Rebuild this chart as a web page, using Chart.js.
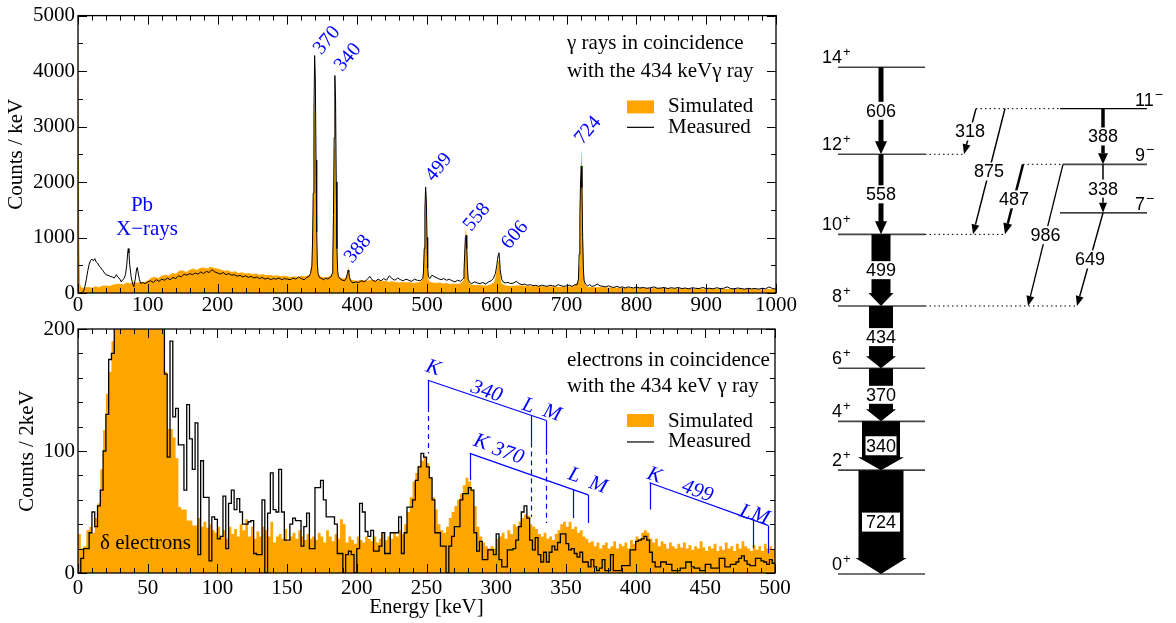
<!DOCTYPE html>
<html><head><meta charset="utf-8">
<script src="https://cdn.jsdelivr.net/npm/chart.js@4.4.0/dist/chart.umd.min.js"></script>
<style>
html,body{margin:0;padding:0;background:#fff;width:1176px;height:623px;overflow:hidden;}
canvas{position:absolute;}
#c1{left:0;top:0;} #c2{left:0;top:310px;} #c3{left:800px;top:0;}
</style></head><body>
<canvas id="c1" width="800" height="320"></canvas>
<canvas id="c2" width="800" height="313"></canvas>
<canvas id="c3" width="376" height="623"></canvas>
<script>
// ================= DATA =================
// gamma spectrum, [energy keV, counts/keV]
const gammaMeasured = [[0,0],[4,0],[8,30],[10,120],[12,250],[14,400],[16,520],[18,590],[20,610],[22,580],[24,620],[26,560],[28,540],[30,490],[32,470],[34,430],[36,400],[38,360],[40,330],[43,320],[46,300],[49,290],[52,270],[55,330],[57,290],[60,250],[62,200],[64,240],[66,260],[68,330],[70,520],[71,700],[72,800],[73,720],[74,520],[76,300],[78,180],[80,110],[82,250],[84,440],[85,460],[86,380],[88,240],[90,170],[93,190],[96,170],[100,200],[104,220],[108,190],[112,240],[116,210],[120,250],[124,230],[128,270],[132,240],[136,280],[140,260],[144,310],[148,290],[152,340],[156,320],[160,350],[164,330],[168,360],[172,340],[176,380],[180,350],[184,390],[188,370],[192,420],[196,380],[200,360],[204,340],[208,370],[212,330],[216,350],[220,320],[224,330],[228,300],[232,320],[236,290],[240,310],[244,280],[248,300],[252,270],[256,290],[260,260],[264,280],[268,250],[272,270],[276,240],[280,260],[284,250],[288,270],[292,240],[296,260],[300,250],[304,240],[308,270],[312,250],[316,290],[320,260],[324,240],[328,280],[331,300],[333,350],[335,480],[336,900],[337,1800],[338,3200],[339,4280],[340,3900],[341,2400],[342,1100],[343,500],[344,350],[346,280],[349,260],[352,240],[355,270],[358,250],[361,280],[363,300],[364,350],[365,600],[366,1400],[367,2800],[368,3920],[369,3500],[370,2000],[371,800],[372,400],[373,300],[376,250],[379,230],[382,220],[384,260],[386,350],[387,410],[388,380],[389,280],[391,210],[394,180],[398,200],[402,190],[406,220],[410,200],[414,240],[418,300],[422,230],[426,210],[430,250],[434,220],[438,260],[442,230],[446,310],[450,260],[454,230],[458,270],[462,240],[466,220],[470,250],[474,230],[478,210],[482,250],[486,230],[490,220],[494,260],[495,400],[496,800],[497,1500],[498,1910],[499,1700],[500,1000],[501,450],[502,300],[504,260],[507,320],[510,300],[513,280],[516,260],[520,240],[524,260],[528,230],[532,250],[536,220],[540,200],[544,230],[548,210],[552,260],[553,400],[554,700],[555,1000],[556,1040],[557,800],[558,450],[559,250],[561,190],[564,170],[568,200],[572,180],[576,170],[580,190],[584,160],[588,200],[592,220],[595,260],[598,350],[600,500],[601,600],[602,680],[603,725],[604,600],[605,400],[607,250],[609,200],[612,180],[616,190],[620,170],[624,180],[628,210],[632,170],[636,150],[640,160],[644,140],[648,150],[652,130],[656,140],[660,120],[664,140],[668,130],[672,120],[676,140],[680,130],[684,120],[688,150],[692,130],[696,120],[700,130],[704,140],[708,120],[712,150],[715,150],[717,250],[718,700],[719,1400],[720,2000],[721,2290],[722,1900],[723,1000],[724,450],[725,230],[727,160],[730,130],[733,150],[736,120],[740,130],[744,160],[748,130],[752,120],[756,110],[760,130],[764,110],[768,100],[772,120],[776,100],[780,110],[784,90],[788,110],[792,100],[796,90],[800,110],[805,90],[810,100],[815,85],[820,95],[825,110],[830,85],[835,90],[840,100],[845,80],[850,95],[855,85],[860,100],[865,80],[870,90],[875,75],[880,95],[885,85],[890,80],[895,100],[900,80],[905,85],[910,75],[915,95],[920,80],[925,85],[930,110],[935,80],[940,75],[945,90],[950,80],[955,70],[960,85],[965,75],[970,80],[975,70],[980,85],[985,75],[990,110],[995,80],[1000,70]];
const gammaSimulated = [[0,5200],[1,5200],[2,800],[3,160],[5,95],[10,100],[15,110],[20,95],[25,120],[30,105],[35,130],[40,135],[45,125],[50,150],[55,160],[60,165],[65,155],[70,190],[75,175],[80,200],[85,185],[90,205],[95,195],[100,225],[105,275],[110,295],[115,265],[120,310],[125,330],[130,315],[135,360],[140,345],[145,400],[150,410],[155,380],[160,420],[165,440],[170,415],[175,450],[180,460],[185,440],[190,475],[195,450],[200,440],[205,420],[210,400],[215,410],[220,380],[225,390],[230,360],[235,375],[240,350],[245,360],[250,340],[255,350],[260,330],[265,340],[270,320],[275,330],[280,310],[285,320],[290,300],[295,310],[300,300],[305,290],[310,300],[315,290],[320,310],[325,300],[330,320],[333,340],[335,500],[336,900],[337,1700],[338,2800],[339,3530],[340,3200],[341,2000],[342,900],[343,450],[344,330],[347,300],[350,290],[355,280],[360,300],[364,340],[365,600],[366,1300],[367,2600],[368,3690],[369,3300],[370,1800],[371,700],[372,380],[373,300],[377,270],[381,260],[384,280],[386,380],[387,470],[388,420],[389,290],[391,240],[395,230],[400,220],[405,240],[410,230],[415,220],[420,240],[425,220],[430,230],[435,210],[440,220],[445,200],[450,210],[455,200],[460,190],[465,200],[470,190],[475,200],[480,180],[485,190],[490,200],[494,250],[495,450],[496,850],[497,1500],[498,1900],[499,1650],[500,900],[501,400],[502,250],[504,200],[508,190],[513,180],[518,190],[523,170],[528,180],[533,160],[538,170],[543,160],[548,170],[552,230],[553,450],[554,800],[555,1100],[556,1175],[557,900],[558,450],[559,220],[561,160],[565,150],[570,140],[575,150],[580,140],[585,130],[590,150],[596,190],[598,280],[600,420],[602,580],[603,625],[604,560],[605,350],[606,200],[608,160],[612,140],[616,130],[620,125],[625,130],[630,140],[640,130],[650,120],[660,125],[670,115],[680,120],[690,110],[700,115],[710,120],[716,200],[718,500],[719,1200],[720,2000],[721,2600],[722,2400],[723,1500],[724,700],[725,300],[726,160],[730,110],[740,105],[750,110],[760,100],[770,95],[780,100],[790,90],[800,95],[810,90],[820,85],[830,90],[840,88],[850,82],[860,80],[870,84],[880,78],[890,80],[900,75],[910,78],[920,80],[930,72],[940,70],[950,74],[960,72],[970,68],[980,65],[990,70],[1000,68]];

// electron spectrum, 2 keV bins from 0 to 500 keV (counts / 2 keV)
const electronBinWidth = 2;
const electronMeasured = [0,12,20,20,33,50,38,55,68,100,130,175,180,
215,240,270,300,320,335,345,350,345,335,320,300,280,260,245,230,215,205,
163,95,190,128,135,105,105,68,138,110,85,123,15,92,62,62,10,46,44,28,30,63,20,57,
68,52,61,50,40,40,42,43,16,15,15,60,0,49,82,52,50,85,50,27,27,40,45,43,43,22,38,49,20,20,
70,70,76,60,46,46,46,40,16,16,0,15,18,15,0,20,57,50,34,30,35,18,18,22,33,16,16,33,33,33,
46,16,33,54,54,60,76,87,98,95,87,78,60,33,33,22,22,0,22,30,38,38,60,65,65,70,68,33,18,
26,11,11,19,19,15,32,11,5,5,19,19,20,27,38,50,55,45,27,19,29,15,9,17,9,17,22,19,25,32,
32,24,19,20,16,13,17,9,9,5,11,5,2,4,11,2,2,15,2,2,2,6,6,6,19,19,26,27,28,30,
27,17,9,5,5,9,9,7,7,2,2,2,4,4,9,9,5,4,4,2,2,7,7,4,4,4,12,12,5,5,
7,7,9,12,14,10,7,6,6,12,12,10,9,7,11,8];
const electronSimulated = [32,20,22,35,38,33,45,57,85,117,147,165,190,
230,270,320,360,390,410,420,420,410,395,375,350,320,290,260,240,220,205,
165,118,118,111,94,54,52,52,43,43,39,39,45,38,42,37,40,35,33,38,30,35,28,38,32,36,30,40,35,44,
30,38,28,34,30,38,35,30,42,25,30,32,28,36,26,30,33,28,35,30,27,32,28,30,27,33,30,25,35,30,
26,32,28,44,40,25,30,27,24,30,27,25,30,28,26,30,25,28,32,27,30,28,33,30,35,32,40,
50,62,75,82,88,92,95,90,78,62,52,40,35,33,38,45,50,55,60,65,72,78,75,68,55,38,
30,25,22,20,22,20,28,30,33,28,35,32,40,38,42,45,48,47,40,38,36,32,30,33,28,30,27,32,35,40,
42,38,42,36,38,33,35,30,28,25,26,22,25,20,23,25,20,22,26,20,24,22,25,20,27,24,30,28,33,35,
33,28,25,28,22,26,24,20,25,22,20,24,21,25,20,23,19,22,20,26,21,18,22,20,24,18,22,19,25,20,
22,18,24,20,26,22,20,18,23,19,22,18,24,20,22,19];

const gammaPeakLabels = ['370','340','388','499','558','606','724'];
const conversionGammas = [340, 370, 499];
const shellNames = ['K', 'L', 'M'];
const shellBinding = [89, 15, 4];

// level scheme
const levelEnergy = [0, 724, 1064, 1434, 1868, 2367, 2925, 3531, 2517, 2855, 3243];
const levelSpin   = ['0','2','4','6','8','10','12','14','7','9','11'];
const levelParity = ['+','+','+','+','+','+','+','+','\u2212','\u2212','\u2212'];
const transEnergy = [724, 340, 370, 434, 499, 558, 606, 318, 875, 487, 986, 649, 388, 338];
const transFrom   = [1, 2, 3, 4, 5, 6, 7, 10, 10, 9, 9, 8, 10, 9];
const transTo     = [0, 1, 2, 3, 4, 5, 6, 6, 5, 5, 4, 4, 9, 8];

// ================= LAYOUT / STYLE =================
const ORANGE = 'rgb(255,165,0)', BLUE = '#0000ff';
const SERIF = '"Liberation Serif","Times New Roman",serif';
const SANS = '"Liberation Sans",Arial,sans-serif';
const gammaLabelPos = [[356.7,4550],[386.8,4245],[401,791],[517,2266],[571.6,1367],[626,1043],[730.7,2932]];
const convLayout = [
  {kTop:158, mTop:125, solidEnd:[136,107,101], dashEnd:[98,46,41], gPos:[293,148.6], shellPos:[[254.7,168],[323,137],[340,131]]},
  {kTop:98, mTop:64, solidEnd:[76,45,41], dashEnd:null, gPos:[308.5,98], shellPos:[[289,107],[356,80],[373,72]]},
  {kTop:74, mTop:39, solidEnd:[52,20.5,16], dashEnd:null, gPos:[444.4,67], shellPos:[[413.5,80],[479,49.5],[489.5,46.5]]}
];
const levelLayout = [[38,125,'g'],[38,125,'g'],[38,125,'g'],[38,125,'g'],[38,125,'g'],[38,125,'g'],[38,125,'g'],[38,125,'g'],[260,347,'s'],[263,347,'g'],[260,347,'s']];
const levelExt = [[6,125,164],[5,125,205],[4,125,277],[10,176,260],[9,223,263]];
const transLayout = [[81,81,45,51,16,'box'],[81,81,38,46,13,'box'],[81,81,24,30,12,'gap'],[81,81,24,30,12,'gap'],[81,81,19,25,13,'gap'],[81,81,5,12,13,'gap'],[81,81,5,12,13,'gap'],
  [176,164,1.5,8,10,'gap'],[205,173,1.5,8,10,'gap'],[223,205,2.5,9,11,'gap'],[263,228,1.3,8,10,'gap'],[303,277,1.5,8,10,'gap'],[303,303,3.5,10,11,'gap'],[303,303,1.5,8,10,'gap']];

// ================= PLUGINS =================
function makeFrame(cfg) {
  return { id: 'frame', afterDatasetsDraw(chart) {
    const {ctx, chartArea: a, scales: {x, y}} = chart;
    ctx.save(); ctx.strokeStyle = '#000'; ctx.lineWidth = 1; ctx.beginPath();
    const tick = (sc, isX, step, len) => {
      const n = Math.round((sc.max - sc.min) / step);
      for (let i = 0; i <= n; i++) {
        const p = Math.round(sc.getPixelForValue(sc.min + i * step)) + 0.5;
        if (isX) { ctx.moveTo(p, a.bottom); ctx.lineTo(p, a.bottom - len); ctx.moveTo(p, a.top); ctx.lineTo(p, a.top + len); }
        else { ctx.moveTo(a.left, p); ctx.lineTo(a.left + len, p); ctx.moveTo(a.right, p); ctx.lineTo(a.right - len, p); }
      }
    };
    tick(x, true, cfg.xMinor, 5); tick(x, true, cfg.xMajor, 9);
    tick(y, false, cfg.yMinor, 5); tick(y, false, cfg.yMajor, 9);
    ctx.stroke();
    ctx.lineWidth = 1.3; ctx.strokeRect(a.left, a.top, a.right - a.left, a.bottom - a.top);
    ctx.restore();
  }};
}
function makeNotes(items, legend) {
  return { id: 'notes', afterDatasetsDraw(chart) {
    const {ctx, scales: {x, y}} = chart;
    items.forEach(it => {
      ctx.save();
      ctx.font = it.font || ('21px ' + SERIF);
      ctx.fillStyle = it.color || '#000';
      ctx.textAlign = it.align || 'left'; ctx.textBaseline = 'middle';
      ctx.translate(x.getPixelForValue(it.x), y.getPixelForValue(it.y));
      if (it.rot) ctx.rotate(it.rot * Math.PI / 180);
      ctx.fillText(it.t, 0, 0);
      ctx.restore();
    });
    if (legend) {
      const L = legend;
      ctx.save();
      ctx.fillStyle = ORANGE;
      const x1 = x.getPixelForValue(L.x1), x2 = x.getPixelForValue(L.x2);
      const y1 = y.getPixelForValue(L.boxTop), y2 = y.getPixelForValue(L.boxBot);
      ctx.fillRect(x1, y1, x2 - x1, y2 - y1);
      ctx.strokeStyle = '#000'; ctx.lineWidth = 1.2; ctx.beginPath();
      const yl = y.getPixelForValue(L.lineY);
      ctx.moveTo(x1, yl); ctx.lineTo(x2, yl); ctx.stroke();
      ctx.font = '21px ' + SERIF; ctx.fillStyle = '#000'; ctx.textBaseline = 'middle'; ctx.textAlign = 'left';
      ctx.fillText('Simulated', x.getPixelForValue(L.tx), y.getPixelForValue(L.t1));
      ctx.fillText('Measured', x.getPixelForValue(L.tx), y.getPixelForValue(L.t2));
      ctx.restore();
    }
  }};
}
const convPlugin = { id: 'conv', afterDatasetsDraw(chart) {
  const {ctx, scales: {x, y}} = chart;
  const px = e => x.getPixelForValue(e), py = c => y.getPixelForValue(c);
  ctx.save(); ctx.strokeStyle = BLUE; ctx.fillStyle = BLUE; ctx.lineWidth = 1.2;
  conversionGammas.forEach((g, i) => {
    const L = convLayout[i];
    const eK = g - shellBinding[0], eM = g - shellBinding[2];
    const topAt = e => L.kTop + (L.mTop - L.kTop) * (e - eK) / (eM - eK);
    ctx.setLineDash([]); ctx.beginPath();
    ctx.moveTo(px(eK), py(L.kTop)); ctx.lineTo(px(eM), py(L.mTop)); ctx.stroke();
    shellBinding.forEach((b, s) => {
      const e = g - b, xx = Math.round(px(e)) + 0.5;
      ctx.setLineDash([]); ctx.beginPath();
      ctx.moveTo(xx, py(topAt(e))); ctx.lineTo(xx, py(L.solidEnd[s])); ctx.stroke();
      if (L.dashEnd) {
        ctx.setLineDash([5, 4]); ctx.beginPath();
        ctx.moveTo(xx, py(L.solidEnd[s])); ctx.lineTo(xx, py(L.dashEnd[s])); ctx.stroke();
      }
    });
    ctx.setLineDash([]);
    const ang = Math.atan2(py(L.mTop) - py(L.kTop), px(eM) - px(eK));
    const put = (t, p) => { ctx.save(); ctx.translate(px(p[0]), py(p[1])); ctx.rotate(ang);
      ctx.font = 'italic 21px ' + SERIF; ctx.textAlign = 'center'; ctx.textBaseline = 'middle'; ctx.fillText(t, 0, 0); ctx.restore(); };
    put(String(g), L.gPos);
    shellNames.forEach((n, s) => put(n, L.shellPos[s]));
  });
  ctx.restore();
}};
const schemePlugin = { id: 'scheme', afterDatasetsDraw(chart) {
  const {ctx, scales: {x, y}} = chart;
  const X = v => x.getPixelForValue(v), Y = e => y.getPixelForValue(e);
  ctx.save();
  transEnergy.forEach((eg, i) => {
    const [x1, x2, w, hw, hl, kind] = transLayout[i];
    const ya = Y(levelEnergy[transFrom[i]]), yb = Y(levelEnergy[transTo[i]]);
    const xa = X(x1), xb = X(x2);
    ctx.fillStyle = '#000'; ctx.strokeStyle = '#000';
    if (w >= 4) {
      ctx.beginPath();
      ctx.moveTo(xa - w / 2, ya); ctx.lineTo(xa + w / 2, ya); ctx.lineTo(xa + w / 2, yb - hl);
      ctx.lineTo(xa + hw / 2, yb - hl); ctx.lineTo(xa, yb); ctx.lineTo(xa - hw / 2, yb - hl);
      ctx.lineTo(xa - w / 2, yb - hl); ctx.closePath(); ctx.fill();
    } else {
      const dx = xb - xa, dy = yb - ya, len = Math.hypot(dx, dy), ux = dx / len, uy = dy / len;
      const bx = xb - ux * hl, by = yb - uy * hl;
      ctx.lineWidth = w; ctx.beginPath(); ctx.moveTo(xa, ya); ctx.lineTo(bx, by); ctx.stroke();
      ctx.beginPath(); ctx.moveTo(xb, yb); ctx.lineTo(bx - uy * hw / 2, by + ux * hw / 2); ctx.lineTo(bx + uy * hw / 2, by - ux * hw / 2); ctx.closePath(); ctx.fill();
    }
    const mx = (xa + xb) / 2, my = (ya + yb) / 2, txt = String(eg);
    ctx.font = '18px ' + SANS;
    const tw = ctx.measureText(txt).width;
    ctx.fillStyle = '#fff';
    if (kind === 'box') ctx.fillRect(mx - (w - 7) / 2, my - 9.5, w - 7, 19);
    else ctx.fillRect(mx - tw / 2 - 1, my - 9, tw + 2, 18);
    ctx.fillStyle = '#000'; ctx.textAlign = 'center'; ctx.textBaseline = 'middle';
    ctx.fillText(txt, mx, my + 1);
  });
  levelEnergy.forEach((e, i) => {
    const yy = Y(e), right = i >= 8;
    ctx.fillStyle = '#000'; ctx.textBaseline = 'alphabetic';
    ctx.font = '18px ' + SANS;
    if (!right) {
      ctx.textAlign = 'right'; ctx.fillText(levelSpin[i], X(42), yy - 4);
      ctx.font = '13px ' + SANS; ctx.textAlign = 'left'; ctx.fillText(levelParity[i], X(43), yy - 11);
    } else {
      ctx.textAlign = 'left'; ctx.fillText(levelSpin[i], X(335), yy - 3);
      const sw = ctx.measureText(levelSpin[i]).width;
      ctx.font = '14px ' + SANS; ctx.fillText(levelParity[i], X(335) + sw + 1, yy - 10);
    }
  });
  ctx.restore();
}};

// ================= CHARTS =================
function axisFont() { return {family: SERIF, size: 21}; }
function baseScale(min, max, step, pad, fit) {
  return { type: 'linear', min, max, grid: {display: false, drawTicks: false}, border: {display: false},
    ticks: {stepSize: step, color: '#000', font: axisFont(), padding: pad, maxRotation: 0, autoSkip: false, callback: v => String(v)},
    afterFit: fit };
}
const topX = baseScale(0, 1000, 100, 0, s => { s.height = 27; });
const topY = baseScale(0, 5000, 1000, 3, s => { s.width = 78; });
topY.title = {display: true, text: 'Counts / keV', color: '#000', font: axisFont(), padding: {top: 4, bottom: 0}};
const topNotes = gammaPeakLabels.map((t, i) => ({t, x: gammaLabelPos[i][0], y: gammaLabelPos[i][1], rot: -50, align: 'center', color: BLUE, font: '20px ' + SERIF}))
  .concat([
    {t: 'Pb', x: 91.7, y: 1583, align: 'center', color: BLUE},
    {t: 'X\u2212rays', x: 98.9, y: 1151, align: 'center', color: BLUE},
    {t: '\u03b3 rays in coincidence', x: 700.6, y: 4496},
    {t: 'with the 434 keV\u03b3 ray', x: 700.6, y: 3993}
  ]);
new Chart(document.getElementById('c1'), {
  type: 'line',
  data: { datasets: [
    {data: gammaMeasured.map(p => ({x: p[0], y: p[1]})), borderColor: '#000', borderWidth: 1, pointRadius: 0, tension: 0, fill: false},
    {data: gammaSimulated.map(p => ({x: p[0], y: p[1]})), borderColor: 'rgba(0,0,0,0)', borderWidth: 0, backgroundColor: ORANGE, pointRadius: 0, tension: 0, fill: 'origin'}
  ]},
  options: { responsive: false, animation: false, devicePixelRatio: 1,
    layout: {padding: {left: 0, right: 24, top: 15, bottom: 0}},
    plugins: {legend: {display: false}, tooltip: {enabled: false}},
    scales: {x: topX, y: topY} },
  plugins: [makeFrame({xMajor: 100, xMinor: 20, yMajor: 1000, yMinor: 500}),
    makeNotes(topNotes, {x1: 786.5, x2: 825.2, boxTop: 3471, boxBot: 3237, lineY: 2986, tx: 845.3, t1: 3363, t2: 2986})]
});

const stepPts = arr => arr.map((v, i) => ({x: i * electronBinWidth, y: v})).concat([{x: arr.length * electronBinWidth, y: arr[arr.length - 1]}]);
const botX = baseScale(0, 500, 50, 2.4, s => { s.height = 50; });
botX.title = {display: true, text: 'Energy [keV]', color: '#000', font: axisFont(), padding: {top: 0, bottom: 3.4}};
const botY = baseScale(0, 200, 100, 3, s => { s.width = 78; });
botY.title = {display: true, text: 'Counts / 2keV', color: '#000', font: axisFont(), padding: {top: 15, bottom: 0}};
const botNotes = [
  {t: 'electrons in coincidence', x: 350.8, y: 174.6},
  {t: 'with the 434 keV \u03b3 ray', x: 350.8, y: 152.5},
  {t: '\u03b4 electrons', x: 15.8, y: 24.6}
];
new Chart(document.getElementById('c2'), {
  type: 'line',
  data: { datasets: [
    {data: stepPts(electronMeasured), stepped: 'before', borderColor: '#000', borderWidth: 1.3, pointRadius: 0, fill: false},
    {data: stepPts(electronSimulated), stepped: 'before', borderColor: 'rgba(0,0,0,0)', borderWidth: 0, backgroundColor: ORANGE, pointRadius: 0, fill: 'origin'}
  ]},
  options: { responsive: false, animation: false, devicePixelRatio: 1,
    layout: {padding: {left: 0, right: 25, top: 19, bottom: 0}},
    plugins: {legend: {display: false}, tooltip: {enabled: false}},
    scales: {x: botX, y: botY} },
  plugins: [makeFrame({xMajor: 50, xMinor: 10, yMajor: 100, yMinor: 20}), convPlugin,
    makeNotes(botNotes, {x1: 393.8, x2: 413.2, boxTop: 130.3, boxBot: 119.7, lineY: 107.4, tx: 423.2, t1: 124.6, t2: 108.2})]
});

const schemeSets = levelEnergy.map((e, i) => {
  const [x1, x2, st] = levelLayout[i];
  return {data: [{x: x1, y: e}, {x: x2, y: e}], showLine: true, pointRadius: 0,
    borderColor: st === 'g' ? '#444' : '#000', borderWidth: st === 'g' ? 1.6 : 1.3};
}).concat(levelExt.map(([li, x1, x2]) => ({data: [{x: x1, y: levelEnergy[li]}, {x: x2, y: levelEnergy[li]}], showLine: true, pointRadius: 0,
    borderColor: '#000', borderWidth: 1, borderDash: [1.5, 3]})));
new Chart(document.getElementById('c3'), {
  type: 'scatter',
  data: {datasets: schemeSets},
  options: { responsive: false, animation: false, devicePixelRatio: 1,
    layout: {padding: 0},
    plugins: {legend: {display: false}, tooltip: {enabled: false}},
    scales: {x: {type: 'linear', min: 0, max: 376, display: false}, y: {type: 'linear', min: -341, max: 4000, display: false}} },
  plugins: [schemePlugin]
});
</script>
</body></html>
